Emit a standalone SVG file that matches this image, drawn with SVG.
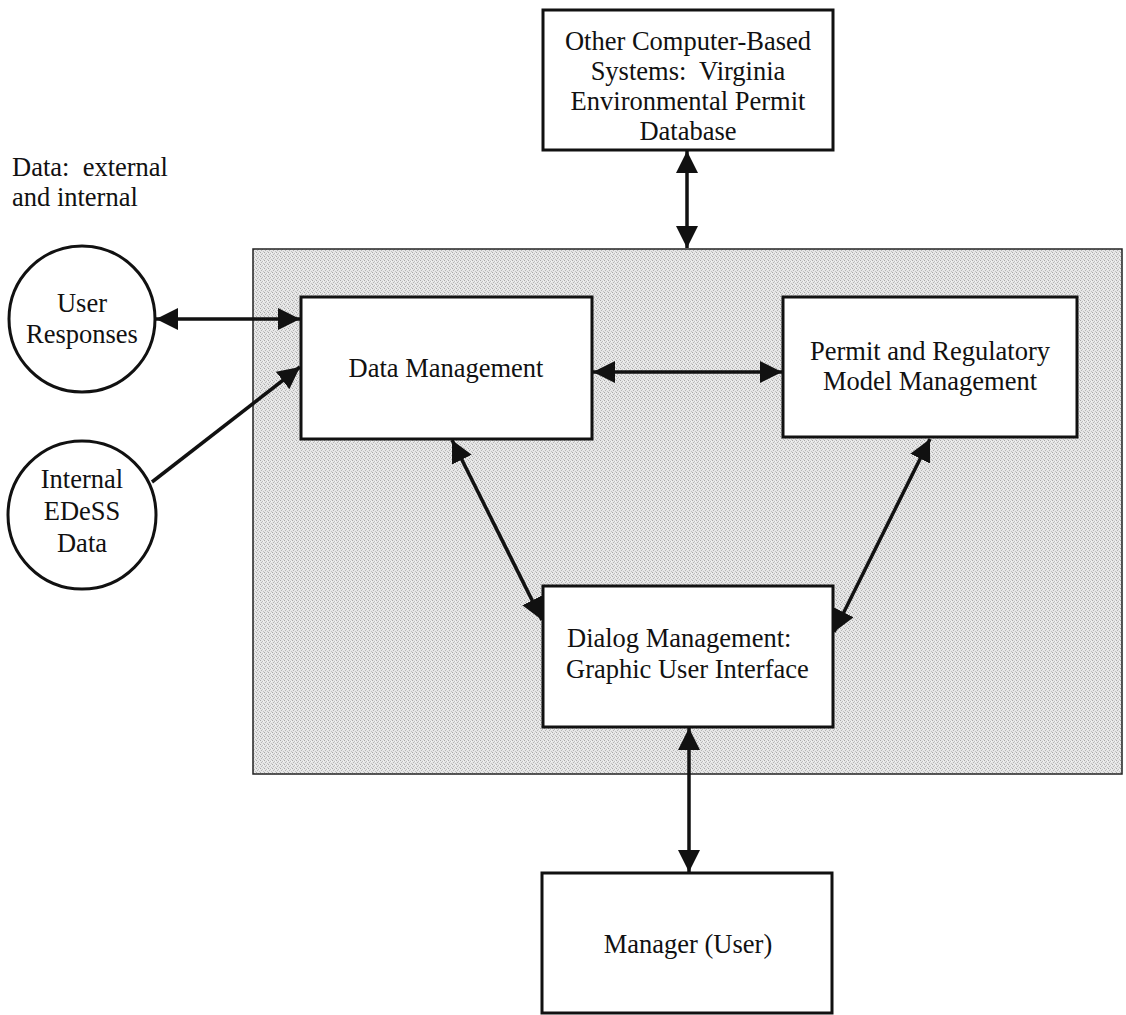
<svg xmlns="http://www.w3.org/2000/svg" width="1126" height="1015" viewBox="0 0 1126 1015">
  <style>
    text { font-family: "Liberation Serif", "Times New Roman", serif; font-size: 26.5px; fill: #111; }
    .mid { text-anchor: middle; }
    .box { fill: #fff; stroke: #111; stroke-width: 3; }
    .node { fill: #fff; stroke: #111; stroke-width: 3; }
    .link { stroke: #111; stroke-width: 3.5; fill: none; }
  </style>
  <defs>
    <!-- stippled grey used for the system panel -->
    <pattern id="stipple" width="4" height="4" patternUnits="userSpaceOnUse">
      <rect width="4" height="4" fill="#e6e6e6"/>
      <rect x="0" y="0" width="1" height="1" fill="#a8a8a8"/>
      <rect x="2" y="1" width="1" height="1" fill="#bdbdbd"/>
      <rect x="1" y="2" width="1" height="1" fill="#b4b4b4"/>
      <rect x="3" y="3" width="1" height="1" fill="#c2c2c2"/>
      <rect x="3" y="1" width="1" height="1" fill="#f4f4f4"/>
    </pattern>
    <marker id="head" markerUnits="userSpaceOnUse" markerWidth="22" markerHeight="22" refX="20" refY="10" orient="auto-start-reverse" viewBox="0 0 20 20">
      <path d="M0,0 L20,10 L0,20 z" fill="#111"/>
    </marker>
  </defs>

  <rect width="1126" height="1015" fill="#fff"/>

  <!-- system panel -->
  <rect id="panel" x="253" y="249" width="869" height="525" fill="url(#stipple)" stroke="#222" stroke-width="1.5"/>

  <!-- free label -->
  <g id="data-label">
    <text x="12" y="176" xml:space="preserve">Data:  external</text>
    <text x="12" y="206">and internal</text>
  </g>

  <g id="other-systems">
    <rect class="box" x="543" y="10" width="290" height="140"/>
    <text class="mid" x="688" y="50">Other Computer-Based</text>
    <text class="mid" x="688" y="80" xml:space="preserve">Systems:  Virginia</text>
    <text class="mid" x="688" y="110">Environmental Permit</text>
    <text class="mid" x="688" y="140">Database</text>
  </g>

  <g id="user-responses">
    <circle class="node" cx="82" cy="319" r="73"/>
    <text class="mid" x="82" y="312">User</text>
    <text class="mid" x="82" y="343">Responses</text>
  </g>

  <g id="internal-data">
    <circle class="node" cx="82" cy="515" r="74"/>
    <text class="mid" x="82" y="488">Internal</text>
    <text class="mid" x="82" y="520">EDeSS</text>
    <text class="mid" x="82" y="552">Data</text>
  </g>

  <g id="data-management">
    <rect class="box" x="301" y="297" width="291" height="142"/>
    <text class="mid" x="446" y="377">Data Management</text>
  </g>

  <g id="model-management">
    <rect class="box" x="783" y="297" width="294" height="140"/>
    <text class="mid" x="930" y="360">Permit and Regulatory</text>
    <text class="mid" x="930" y="390">Model Management</text>
  </g>

  <g id="dialog-management">
    <rect class="box" x="543" y="586" width="290" height="141"/>
    <text x="567" y="647">Dialog Management:</text>
    <text x="566" y="678">Graphic User Interface</text>
  </g>

  <g id="manager">
    <rect class="box" x="542" y="873" width="290" height="140"/>
    <text class="mid" x="688" y="953">Manager (User)</text>
  </g>

  <!-- connectors -->
  <g id="connectors">
    <line class="link" x1="687" y1="151" x2="687" y2="248" marker-start="url(#head)" marker-end="url(#head)"/>
    <line class="link" x1="156" y1="319" x2="300" y2="319" marker-start="url(#head)" marker-end="url(#head)"/>
    <line class="link" x1="152" y1="482" x2="300" y2="367" marker-end="url(#head)"/>
    <line class="link" x1="593" y1="372" x2="782" y2="372" marker-start="url(#head)" marker-end="url(#head)"/>
    <line class="link" x1="452" y1="440" x2="542" y2="620" marker-start="url(#head)" marker-end="url(#head)"/>
    <line class="link" x1="930" y1="439" x2="834" y2="632" marker-start="url(#head)" marker-end="url(#head)"/>
    <line class="link" x1="689" y1="728" x2="689" y2="872" marker-start="url(#head)" marker-end="url(#head)"/>
  </g>
</svg>
